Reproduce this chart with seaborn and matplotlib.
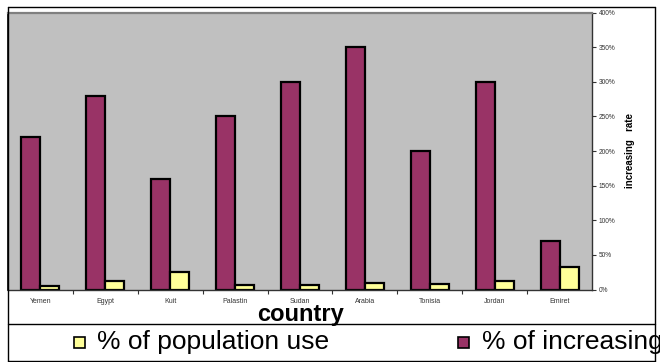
import matplotlib
matplotlib.use("Agg")
import matplotlib.pyplot as plt
from matplotlib.lines import Line2D
from matplotlib.patches import Rectangle
import seaborn as sns
import pandas as pd

# Data
countries = ["Yemen", "Egypt", "Kuit", "Palastin", "Sudan",
             "Arabia", "Tonisia", "Jordan", "Emiret"]
increasing_rate = [220, 280, 160, 250, 300, 350, 200, 300, 70]
population_use = [5, 12, 25, 7, 7, 10, 8, 12, 33]
series_names = ["% of increasing", "% of population use"]
y_ticks = [0, 50, 100, 150, 200, 250, 300, 350, 400]

df = pd.DataFrame({
    "country": countries * 2,
    "value": increasing_rate + population_use,
    "series": [series_names[0]] * len(countries) + [series_names[1]] * len(countries),
})

sns.set_theme(style="white")
plt.rcParams["font.family"] = ["Liberation Sans", "DejaVu Sans"]

W, H = 660, 362
fig = plt.figure(figsize=(W / 100, H / 100), dpi=100)
fig.patch.set_facecolor("white")


def fx(px):
    return px / W


def fy(py):
    return 1 - py / H


ax = fig.add_axes([fx(8), fy(289.5), fx(592) - fx(8), fy(12.5) - fy(289.5)])
ax.set_facecolor("#C0C0C0")

purple = "#993366"
yellow = "#FFFF99"
sns.barplot(data=df, x="country", y="value", hue="series",
            hue_order=series_names, palette=[purple, yellow],
            saturation=1, width=0.585, edgecolor="black", linewidth=1.6,
            ax=ax, legend=False)

ax.set_xlim(-0.5, len(countries) - 0.5)
ax.set_ylim(0, 400)

# value axis on the right
ax.yaxis.tick_right()
ax.set_yticks(y_ticks)
ax.set_yticklabels([f"{v}%" for v in y_ticks], fontsize=4.7, color="#333333")
ax.tick_params(axis="y", direction="out", length=3, width=0.8, color="#333333", pad=2,
               right=True, left=False)
ax.set_ylabel("")

# category axis: labels centred, ticks at the category boundaries
ax.set_xlabel("")
ax.set_xticks(range(len(countries)))
ax.set_xticklabels(countries, fontsize=5, color="#333333")
ax.tick_params(axis="x", which="major", length=0, pad=6)
ax.set_xticks([i - 0.5 for i in range(1, len(countries))], minor=True)
ax.tick_params(axis="x", which="minor", direction="out", length=3, width=0.8,
               color="#333333", bottom=True)

for side in ("top", "left"):
    ax.spines[side].set_visible(True)
    ax.spines[side].set_color("#808080")
    ax.spines[side].set_linewidth(1.6)
ax.spines["left"].set_color("black")
ax.spines["left"].set_linewidth(1.2)
ax.spines["right"].set_color("#333333")
ax.spines["right"].set_linewidth(1.0)
ax.spines["bottom"].set_color("#333333")
ax.spines["bottom"].set_linewidth(1.0)

fig.text(fx(630), fy(151), "increasing   rate", rotation=90, fontsize=7,
         fontweight="bold", ha="center", va="center", color="black")
fig.text(fx(300), fy(315), "country", fontsize=17, fontweight="bold",
         ha="center", va="center", color="black")

# outer frame and legend box
frame_kw = dict(transform=fig.transFigure, color="black", linewidth=1.0)
fig.add_artist(Line2D([fx(7.5), fx(655)], [fy(7), fy(7)], **frame_kw))
fig.add_artist(Line2D([fx(7.5), fx(7.5)], [fy(7), fy(360.5)], **frame_kw))
fig.add_artist(Line2D([fx(655), fx(655)], [fy(7), fy(360.5)], **frame_kw))
fig.add_artist(Line2D([fx(7.5), fx(655)], [fy(360.5), fy(360.5)], **frame_kw))
fig.add_artist(Line2D([fx(7.5), fx(655)], [fy(323.5), fy(323.5)], **frame_kw))

# legend entries
legend_items = [(74, yellow, series_names[1], 97), (458, purple, series_names[0], 482)]
for sq_x, color, label, tx in legend_items:
    fig.add_artist(Rectangle((fx(sq_x), fy(348)), fx(11), 11 / H,
                             transform=fig.transFigure, facecolor=color,
                             edgecolor="black", linewidth=1.2))
    fig.text(fx(tx), fy(342.5), label, fontsize=19, ha="left", va="center",
             color="black")

fig.savefig("out.png", dpi=100)
